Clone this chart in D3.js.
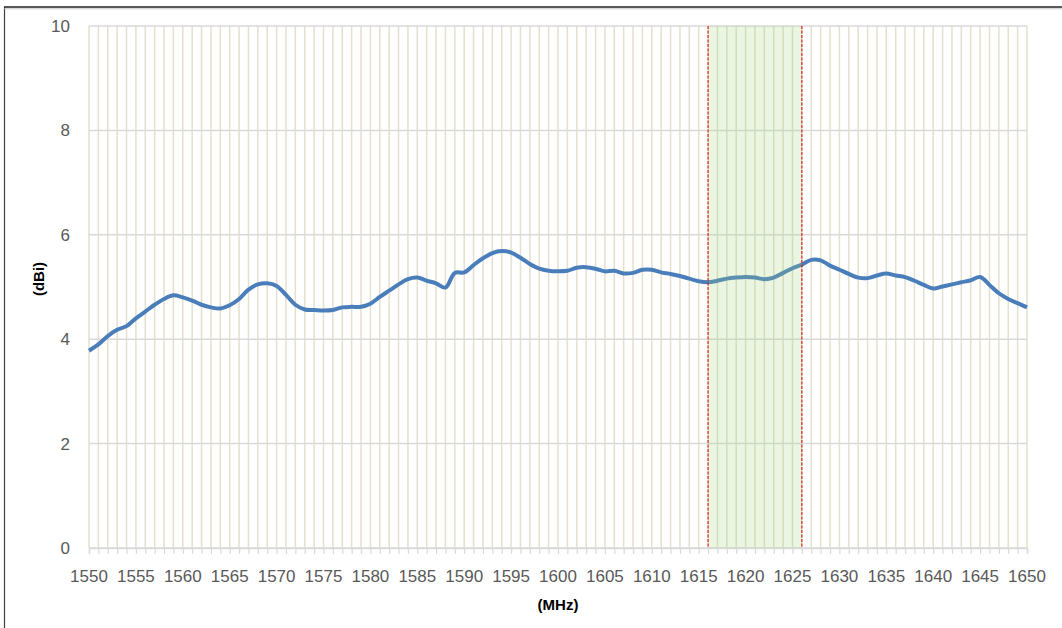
<!DOCTYPE html>
<html>
<head>
<meta charset="utf-8">
<script src="https://cdn.jsdelivr.net/npm/d3@7"></script>
<style>
  body { margin: 0; background: #fff; }
  text { font-family: 'Liberation Sans', Arial, sans-serif; }
</style>
</head>
<body>
<script>
// gain readings, one per MHz
const freqStart = 1550;
const gain = [
  3.78, 3.90, 4.06, 4.18, 4.25, 4.40, 4.53, 4.66, 4.77, 4.84,
  4.80, 4.74, 4.66, 4.61, 4.59, 4.65, 4.77, 4.95, 5.05, 5.07,
  5.02, 4.85, 4.66, 4.57, 4.56, 4.55, 4.56, 4.61, 4.62, 4.62,
  4.68, 4.81, 4.93, 5.05, 5.15, 5.18, 5.12, 5.07, 4.99, 5.27,
  5.28, 5.42, 5.55, 5.65, 5.69, 5.66, 5.56, 5.44, 5.35, 5.31,
  5.30, 5.31, 5.37, 5.38, 5.35, 5.30, 5.31, 5.26, 5.27, 5.33,
  5.33, 5.28, 5.25, 5.21, 5.16, 5.11, 5.09, 5.12, 5.16, 5.18,
  5.19, 5.18, 5.15, 5.18, 5.27, 5.36, 5.43, 5.52, 5.51, 5.41,
  5.33, 5.25, 5.18, 5.17, 5.22, 5.26, 5.22, 5.19, 5.12, 5.04,
  4.97, 5.01, 5.05, 5.09, 5.13, 5.19, 5.04, 4.88, 4.77, 4.69,
  4.61,
];
const band = [1616, 1626];
const xTicks = d3.range(1550, 1651, 5);
const yTicks = [0, 2, 4, 6, 8, 10];

const data = gain.map((g, i) => ({ f: freqStart + i, g }));

const margin = {
  top: 26, right: 35, bottom: 80, left: 89,
};
const W = 1062;
const H = 628;
const width = W - margin.left - margin.right;
const height = H - margin.top - margin.bottom;

const root = d3.select('body')
  .append('svg')
  .attr('width', W)
  .attr('height', H);

// outer frame
root.append('line')
  .attr('x1', 4.5).attr('x2', 4.5).attr('y1', 7).attr('y2', H)
  .attr('stroke', '#404040').attr('stroke-width', 1.2);
root.append('line')
  .attr('x1', 4).attr('x2', W).attr('y1', 7).attr('y2', 7)
  .attr('stroke', '#202020').attr('stroke-width', 1.5);
root.append('line')
  .attr('x1', 4).attr('x2', W).attr('y1', 8.8).attr('y2', 8.8)
  .attr('stroke', '#bbbbbb').attr('stroke-width', 0.8);

const svg = root.append('g')
  .attr('transform', `translate(${margin.left},${margin.top})`);

const x = d3.scaleLinear().domain([1550, 1650]).range([0, width]);
const y = d3.scaleLinear().domain([0, 10]).range([height, 0]);

// vertical grid, every MHz
svg.append('g')
  .selectAll('line')
  .data(d3.range(1550, 1651, 1))
  .enter().append('line')
  .attr('x1', (d) => x(d)).attr('x2', (d) => x(d))
  .attr('y1', 0).attr('y2', height)
  .attr('stroke', '#e5dfcd')
  .attr('stroke-width', 1.5);

// horizontal grid
svg.append('g')
  .selectAll('line')
  .data(yTicks)
  .enter().append('line')
  .attr('x1', 0).attr('x2', width)
  .attr('y1', (d) => y(d)).attr('y2', (d) => y(d))
  .attr('stroke', '#d9d9d9')
  .attr('stroke-width', 1.5);

// x axis with minor ticks
const xAxis = d3.axisBottom(x)
  .tickValues(d3.range(1550, 1651, 1))
  .tickSize(6)
  .tickFormat('');
const gx = svg.append('g')
  .attr('transform', `translate(0,${height})`)
  .call(xAxis);
gx.select('.domain').attr('stroke', '#d9d9d9').attr('stroke-width', 1.5);
gx.selectAll('.tick line').attr('stroke', '#d9d9d9').attr('stroke-width', 1.2);

svg.append('g')
  .selectAll('text')
  .data(xTicks)
  .enter().append('text')
  .attr('x', (d) => x(d))
  .attr('y', height + 34)
  .attr('text-anchor', 'middle')
  .style('font-size', '17px')
  .style('fill', '#595959')
  .text((d) => d);

svg.append('g')
  .selectAll('text')
  .data(yTicks)
  .enter().append('text')
  .attr('x', -19)
  .attr('y', (d) => y(d))
  .attr('dy', '0.35em')
  .attr('text-anchor', 'end')
  .style('font-size', '17px')
  .style('fill', '#595959')
  .text((d) => d);

// gain curve
const line = d3.line()
  .x((d) => x(d.f))
  .y((d) => y(d.g))
  .curve(d3.curveCatmullRom.alpha(0.5));

svg.append('path')
  .datum(data)
  .attr('d', line)
  .attr('fill', 'none')
  .attr('stroke', '#4a7ebb')
  .attr('stroke-width', 4)
  .attr('stroke-linejoin', 'round');

// highlighted band on top
svg.append('rect')
  .attr('x', x(band[0]))
  .attr('y', 0)
  .attr('width', x(band[1]) - x(band[0]))
  .attr('height', height)
  .attr('fill', '#9fd07a')
  .attr('fill-opacity', 0.22);

svg.selectAll('.edge')
  .data(band)
  .enter().append('line')
  .attr('class', 'edge')
  .attr('x1', (d) => x(d)).attr('x2', (d) => x(d))
  .attr('y1', 0).attr('y2', height)
  .attr('stroke', '#e00000')
  .attr('stroke-width', 1)
  .attr('stroke-dasharray', '3,1.5');

// axis titles
svg.append('text')
  .attr('x', width / 2)
  .attr('y', height + 62)
  .attr('text-anchor', 'middle')
  .style('font-size', '15px')
  .style('font-weight', 'bold')
  .style('fill', '#000')
  .text('(MHz)');

svg.append('text')
  .attr('transform', `translate(${-45},${height / 2 - 8}) rotate(-90)`)
  .attr('text-anchor', 'middle')
  .style('font-size', '15px')
  .style('font-weight', 'bold')
  .style('fill', '#000')
  .text('(dBi)');
</script>
</body>
</html>
